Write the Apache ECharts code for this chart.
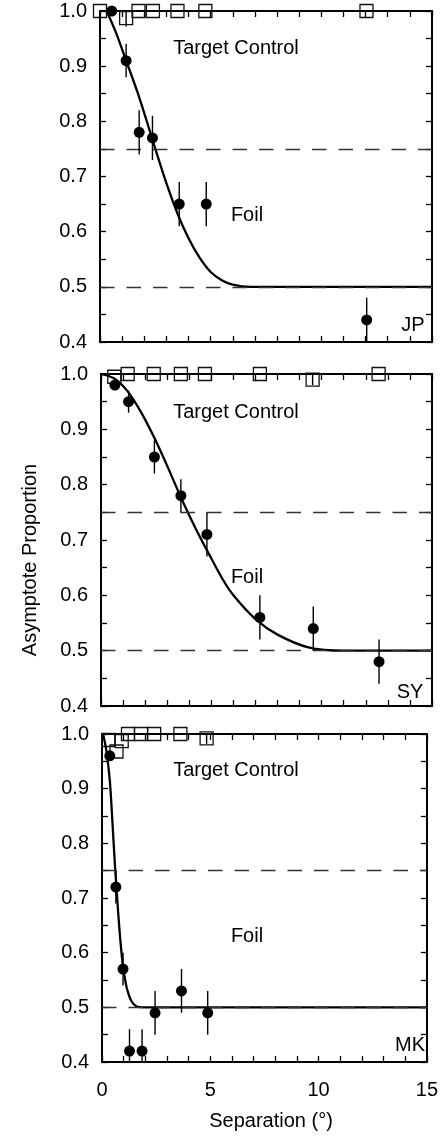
<!DOCTYPE html>
<html><head><meta charset="utf-8">
<script src="https://cdn.jsdelivr.net/npm/echarts@6/dist/echarts.min.js"></script>
<style>html,body{margin:0;padding:0;background:#fff}#c{width:441px;height:1140px}</style>
</head><body><div id="c"></div>
<script>
// ---------- data ----------
const xTickLabels = [0, 5, 10, 15];
const yTickLabels = [0.4, 0.5, 0.6, 0.7, 0.8, 0.9, 1.0];
const refLevels = [0.75, 0.5];
const panelNames = ['JP', 'SY', 'MK'];
const textTarget = 'Target Control';
const textFoil = 'Foil';
const xTitle = 'Separation (°)';
const yTitle = 'Asymptote Proportion';

// JP
const jpFoilX = [0.53, 1.18, 1.77, 2.37, 3.58, 4.80, 12.05];
const jpFoilY = [1.00, 0.91, 0.78, 0.77, 0.65, 0.65, 0.44];
const jpFoilErr = [0, 0.03, 0.04, 0.04, 0.04, 0.04, 0.04];
const jpCtrlX = [0.0, 1.18, 1.74, 2.39, 3.50, 4.76, 12.04];
const jpCtrlY = [1.0, 0.987, 1.0, 1.0, 1.0, 1.0, 1.0];
const jpCtrlErr = [0, 0.015, 0, 0, 0, 0, 0];
const jpCurveX = [0.3, 0.7, 1.2, 1.7, 2.1, 2.5, 3.0, 3.5, 4.0, 4.5, 5.0, 5.5, 6.0, 6.8, 15];
const jpCurveY = [1.0, 0.963, 0.908, 0.852, 0.802, 0.75, 0.688, 0.633, 0.588, 0.553, 0.527, 0.512, 0.504, 0.5, 0.5];

// SY
const syFoilX = [0.63, 1.25, 2.42, 3.62, 4.80, 7.20, 9.62, 12.60];
const syFoilY = [0.98, 0.95, 0.85, 0.78, 0.71, 0.56, 0.54, 0.48];
const syFoilErr = [0, 0.02, 0.03, 0.03, 0.04, 0.04, 0.04, 0.04];
const syCtrlX = [0.60, 1.21, 2.39, 3.62, 4.71, 7.20, 9.59, 12.58];
const syCtrlY = [0.995, 1.0, 1.0, 1.0, 1.0, 1.0, 0.99, 1.0];
const syCtrlErr = [0, 0, 0, 0, 0, 0, 0.01, 0];
const syCurveX = [0, 0.6, 1.2, 1.8, 2.4, 3.0, 3.7, 4.3, 4.9, 5.5, 6.0, 7.0, 8.0, 9.4, 11, 15];
const syCurveY = [1.0, 0.992, 0.969, 0.932, 0.886, 0.834, 0.77, 0.72, 0.674, 0.63, 0.60, 0.557, 0.529, 0.506, 0.5, 0.5];

// MK
const mkFoilX = [0.36, 0.64, 0.97, 1.27, 1.85, 2.45, 3.67, 4.88];
const mkFoilY = [0.96, 0.72, 0.57, 0.42, 0.42, 0.49, 0.53, 0.49];
const mkFoilErr = [0, 0.03, 0.03, 0.04, 0.04, 0.04, 0.04, 0.04];
const mkCtrlX = [0.29, 0.67, 0.91, 1.20, 1.80, 2.41, 3.62, 4.83];
const mkCtrlY = [0.989, 0.968, 0.987, 1.0, 1.0, 1.0, 1.0, 0.992];
const mkCtrlErr = [0, 0, 0, 0, 0, 0, 0, 0.01];
const mkCurveX = [0.05, 0.2, 0.36, 0.48, 0.59, 0.7, 0.8, 0.9, 0.97, 1.08, 1.18, 1.35, 1.58, 2.0, 15];
const mkCurveY = [1.0, 0.97, 0.915, 0.84, 0.765, 0.70, 0.645, 0.60, 0.575, 0.548, 0.53, 0.512, 0.502, 0.5, 0.5];

// ---------- build ----------
const panels = [
  {foilX: jpFoilX, foilY: jpFoilY, foilErr: jpFoilErr, ctrlX: jpCtrlX, ctrlY: jpCtrlY, ctrlErr: jpCtrlErr, cX: jpCurveX, cY: jpCurveY},
  {foilX: syFoilX, foilY: syFoilY, foilErr: syFoilErr, ctrlX: syCtrlX, ctrlY: syCtrlY, ctrlErr: syCtrlErr, cX: syCurveX, cY: syCurveY},
  {foilX: mkFoilX, foilY: mkFoilY, foilErr: mkFoilErr, ctrlX: mkCtrlX, ctrlY: mkCtrlY, ctrlErr: mkCtrlErr, cX: mkCurveX, cY: mkCurveY}
];

const FONT = 'Liberation Sans, Arial, Helvetica, sans-serif';
const grids = [
  {left: 100, top: 11, width: 332, height: 331},
  {left: 101, top: 374, width: 331, height: 332},
  {left: 102, top: 734, width: 330, height: 328}
];

const axLine = {show: true, onZero: false, lineStyle: {color: '#000', width: 2}};
const tickStyle = {color: '#000', width: 1.3};

const xAxes = [], yAxes = [], series = [], graphics = [];
grids.forEach((g, gi) => {
  ['bottom', 'top'].forEach(pos => {
    xAxes.push({
      type: 'value', gridIndex: gi, position: pos,
      min: xTickLabels[0], max: xTickLabels[xTickLabels.length - 1], interval: 5,
      axisLine: axLine,
      axisTick: {show: true, inside: true, length: 6, lineStyle: tickStyle},
      minorTick: {show: true, splitNumber: 5, length: 6, lineStyle: tickStyle},
      splitLine: {show: false}, minorSplitLine: {show: false},
      axisLabel: {show: gi === 2 && pos === 'bottom', fontSize: 20, color: '#000', fontFamily: FONT, margin: 18,
        showMinLabel: true, showMaxLabel: true}
    });
  });
  ['left', 'right'].forEach(pos => {
    yAxes.push({
      type: 'value', gridIndex: gi, position: pos,
      min: yTickLabels[0], max: yTickLabels[yTickLabels.length - 1], interval: 0.1,
      axisLine: axLine,
      axisTick: {show: true, inside: true, length: 6, lineStyle: tickStyle},
      minorTick: {show: true, splitNumber: 2, length: 6, lineStyle: tickStyle},
      splitLine: {show: false}, minorSplitLine: {show: false},
      axisLabel: {show: pos === 'left', fontSize: 20, color: '#000', fontFamily: FONT, margin: 13,
        showMinLabel: true, showMaxLabel: true, formatter: v => v.toFixed(1)}
    });
  });

  const p = panels[gi];
  const xi = gi * 2, yi = gi * 2;
  series.push({
    type: 'line', xAxisIndex: xi, yAxisIndex: yi, z: 4,
    data: p.cX.map((x, i) => [x, p.cY[i]]),
    showSymbol: false, smooth: 0.3,
    lineStyle: {color: '#000', width: 2.3},
    silent: true, animation: false,
    markLine: {
      silent: true, symbol: ['none', 'none'], label: {show: false}, animation: false,
      lineStyle: {color: '#333', width: 1.3, type: [14.5, 12]},
      data: refLevels.map(v => ({yAxis: v}))
    }
  });
  const errSeries = (xs, ys, es, z) => ({
    type: 'custom', xAxisIndex: xi, yAxisIndex: yi, z: z, clip: true, silent: true, animation: false,
    data: xs.map((x, i) => [x, ys[i] - es[i], ys[i] + es[i], es[i]]).filter(d => d[3] > 0),
    encode: {x: 0, y: [1, 2]},
    renderItem: (params, api) => {
      const lo = api.coord([api.value(0), api.value(1)]);
      const hi = api.coord([api.value(0), api.value(2)]);
      return {type: 'line', shape: {x1: lo[0], y1: lo[1], x2: hi[0], y2: hi[1]},
        style: {stroke: '#000', lineWidth: 1.4}};
    }
  });
  series.push(errSeries(p.ctrlX, p.ctrlY, p.ctrlErr, 3));
  series.push({
    type: 'scatter', xAxisIndex: xi, yAxisIndex: yi, z: 3, clip: false, silent: true, animation: false,
    data: p.ctrlX.map((x, i) => [x, p.ctrlY[i]]),
    symbol: 'rect', symbolSize: 13,
    itemStyle: {color: 'rgba(0,0,0,0)', borderColor: '#111', borderWidth: 1.3, opacity: 1}
  });
  series.push(errSeries(p.foilX, p.foilY, p.foilErr, 5));
  series.push({
    type: 'scatter', xAxisIndex: xi, yAxisIndex: yi, z: 6, clip: false, silent: true, animation: false,
    data: p.foilX.map((x, i) => [x, p.foilY[i]]),
    symbol: 'circle', symbolSize: 11,
    itemStyle: {color: '#000', opacity: 1}
  });
});

const txt = (t, x, y, extra) => Object.assign({
  type: 'text', x: x, y: y, silent: true,
  style: {text: t, font: '20px ' + FONT, fill: '#000', textAlign: 'center', textVerticalAlign: 'middle'}
}, extra || {});
const targetY = [48, 412, 770];
const foilY = [215, 577, 936];
const nameXY = [[413, 325], [410, 692], [410, 1045]];
for (let i = 0; i < 3; i++) {
  graphics.push(txt(textTarget, 236, targetY[i]));
  graphics.push(txt(textFoil, 247, foilY[i]));
  graphics.push(txt(panelNames[i], nameXY[i][0], nameXY[i][1]));
}
graphics.push(txt(xTitle, 271, 1121));
graphics.push(txt(yTitle, 30, 560, {rotation: Math.PI / 2}));

const chart = echarts.init(document.getElementById('c'), null, {renderer: 'canvas'});
chart.setOption({
  animation: false,
  backgroundColor: '#fff',
  grid: grids.map(g => Object.assign({containLabel: false}, g)),
  xAxis: xAxes, yAxis: yAxes, series: series, graphic: graphics
});
</script></body></html>
